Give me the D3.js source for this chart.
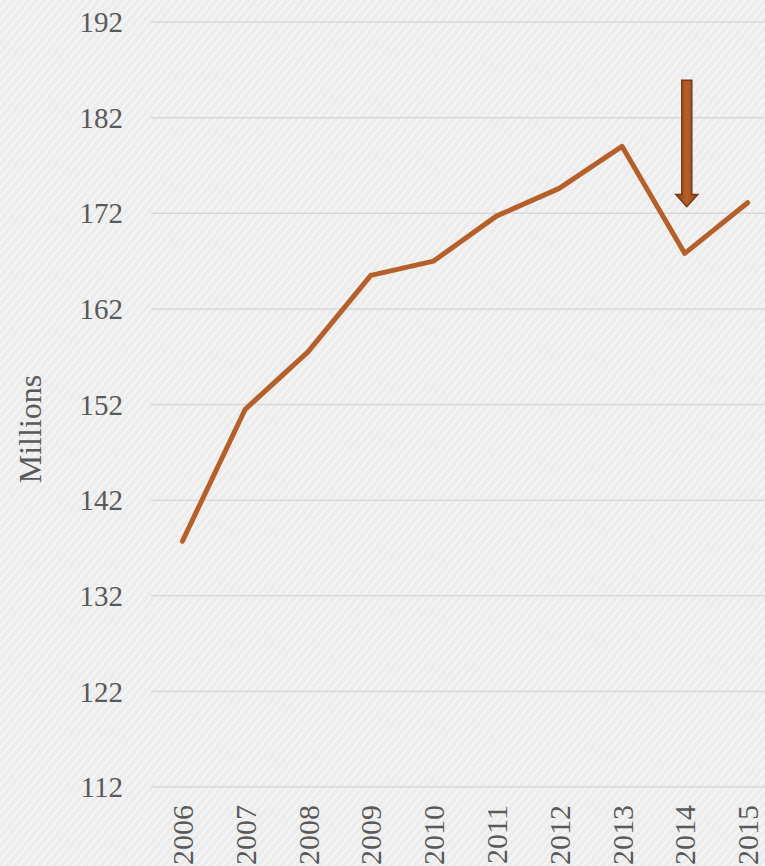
<!DOCTYPE html>
<html>
<head>
<meta charset="utf-8">
<script src="https://cdn.jsdelivr.net/npm/d3@7"></script>
<style>
  html, body { margin: 0; padding: 0; background: #eeeeee; }
  svg { display: block; }
</style>
</head>
<body>
<div id="chart"></div>
<script>
const years = ["2006", "2007", "2008", "2009", "2010", "2011", "2012", "2013", "2014", "2015"];
const millions = [137.7, 151.5, 157.5, 165.5, 167.0, 171.7, 174.6, 179.0, 167.8, 173.1];
const yTicks = [112, 122, 132, 142, 152, 162, 172, 182, 192];
const arrowYear = "2014";
const arrowFrom = 185.9;
const arrowTo = 172.7;

let width = 765,
    height = 866;

let svg = d3.select("#chart")
    .append("svg")
    .attr("width", width)
    .attr("height", height);

let defs = svg.append("defs");

// faint diagonal texture on the background
let pat = defs.append("pattern")
    .attr("id", "texture")
    .attr("width", 6)
    .attr("height", 6)
    .attr("patternUnits", "userSpaceOnUse")
    .attr("patternTransform", "rotate(40)");
pat.append("rect").attr("width", 6).attr("height", 6).attr("fill", "#ececec");
pat.append("rect").attr("width", 2).attr("height", 6).attr("fill", "#f5f5f5");

let arrowGrad = defs.append("linearGradient")
    .attr("id", "arrowGrad")
    .attr("x1", "0%").attr("x2", "100%");
arrowGrad.append("stop").attr("offset", "0%").attr("stop-color", "#8e4418");
arrowGrad.append("stop").attr("offset", "50%").attr("stop-color", "#b5602a");
arrowGrad.append("stop").attr("offset", "100%").attr("stop-color", "#8e4418");

svg.append("rect")
    .attr("width", width)
    .attr("height", height)
    .attr("fill", "url(#texture)");

let x = d3.scaleBand().domain(years).range([151, 779]);
let y = d3.scaleLinear().domain([112, 192]).range([787, 22]);

// gridlines
svg.append("g")
    .selectAll("line")
    .data(yTicks)
    .enter().append("line")
    .attr("x1", 151)
    .attr("x2", width)
    .attr("y1", d => y(d))
    .attr("y2", d => y(d))
    .attr("stroke", "#d9d9d9")
    .attr("stroke-width", 1.5);

// y labels
svg.append("g")
    .selectAll("text")
    .data(yTicks)
    .enter().append("text")
    .attr("x", 123)
    .attr("y", d => y(d))
    .attr("dy", "0.35em")
    .attr("text-anchor", "end")
    .attr("font-family", "'Liberation Serif', serif")
    .attr("font-size", 29)
    .attr("fill", "#595959")
    .text(d => d);

// x labels, rotated
svg.append("g")
    .selectAll("text")
    .data(years)
    .enter().append("text")
    .attr("transform", d => "translate(" + (x(d) + x.bandwidth() / 2) + ",805) rotate(-90)")
    .attr("dy", "0.35em")
    .attr("text-anchor", "end")
    .attr("font-family", "'Liberation Serif', serif")
    .attr("font-size", 30)
    .attr("fill", "#595959")
    .text(d => d);

svg.append("text")
    .attr("transform", "translate(30,429) rotate(-90)")
    .attr("dy", "0.35em")
    .attr("text-anchor", "middle")
    .attr("font-family", "'Liberation Serif', serif")
    .attr("font-size", 32)
    .attr("fill", "#595959")
    .text("Millions");

let line = d3.line()
    .x((d, i) => x(years[i]) + x.bandwidth() / 2)
    .y(d => y(d));

svg.append("path")
    .datum(millions)
    .attr("d", line)
    .attr("fill", "none")
    .attr("stroke", "#b5602a")
    .attr("stroke-width", 5)
    .attr("stroke-linejoin", "round")
    .attr("stroke-linecap", "round");

// arrow pointing at the 2014 drop
let ax = x(arrowYear) + x.bandwidth() / 2 + 2;
let y0 = y(arrowFrom), y1 = y(arrowTo);
let shaft = 5, head = 11, headH = 12;
let arrowPts = [
    [ax - shaft, y0], [ax + shaft, y0], [ax + shaft, y1 - headH],
    [ax + head, y1 - headH], [ax, y1], [ax - head, y1 - headH],
    [ax - shaft, y1 - headH]
];
svg.append("path")
    .attr("d", d3.line()(arrowPts) + "Z")
    .attr("fill", "url(#arrowGrad)")
    .attr("stroke", "#7a3a14")
    .attr("stroke-width", 1.5);
</script>
</body>
</html>
